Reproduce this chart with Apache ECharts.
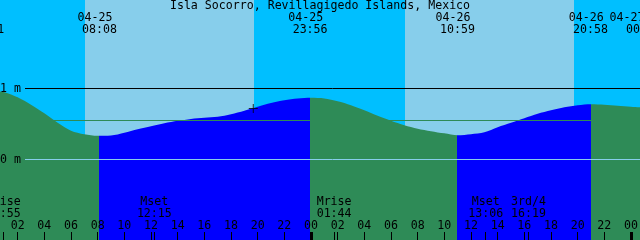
<!DOCTYPE html>
<html><head><meta charset="utf-8">
<script src="https://cdn.jsdelivr.net/npm/echarts@6/dist/echarts.min.js"></script>
<style>html,body{margin:0;padding:0;background:#00BFFF}#c{width:640px;height:240px}</style>
</head><body><div id="c"></div>
<script>
const chartTitle = 'Isla Socorro, Revillagigedo Islands, Mexico';
// hours since 04-25 00:00
const hours = [0,1,2,3,4,5,6,7,8,9,10,11,12,13,14,15,16,17,18,19,20,21,22,23,24,25,26,27,28,29,30,31,32,33,34,35,36,37,38,39,40,41,42,43,44,45,46,47,48,49];
const levels = [0.969,0.948,0.877,0.772,0.652,0.518,0.406,0.356,0.334,0.338,0.377,0.427,0.469,0.511,0.545,0.572,0.589,0.603,0.638,0.687,0.744,0.796,0.835,0.859,0.868,0.859,0.821,0.765,0.694,0.617,0.546,0.483,0.434,0.399,0.368,0.342,0.356,0.383,0.455,0.518,0.582,0.645,0.694,0.737,0.765,0.779,0.772,0.758,0.744,0.732];
const tideHours = [-0.317, 8.133, 23.933, 34.983, 44.967, 48.03];
const tideKinds = ['H','L','H','L','H','X'];
const tideDates = ['04-24','04-25','04-25','04-26','04-26','04-27'];
const tideTimes = ['23:41','08:08','23:56','10:59','20:58','00:02'];
const dayStarts = [7.05, 31.05];
const dayEnds = [19.725, 43.725];
const moonHours = [0.917, 12.25, 25.733, 37.1, 40.317];
const moonNames = ['Mrise','Mset','Mrise','Mset','3rd/4'];
const moonTimes = ['00:55','12:15','01:44','13:06','16:19'];
const hourTicks = [2,4,6,8,10,12,14,16,18,20,22,24,26,28,30,32,34,36,38,40,42,44,46,48];
const midnightTicks = [24,48];
const depthLines = [1, 0];
const meanLevel = 0.549;
const nowHour = 19.67, nowLevel = 0.72;

const X_MIN = 0.675, X_MAX = 48.675;
const Y_MIN = -1.1338, Y_MAX = 2.2465;
const FONT = 'DejaVu Sans Mono';
const FS = 11.6;
const GREEN = '#2E8B57', BLUE = '#0000FF', DAY = '#87CEEB', NIGHT = '#00BFFF';

const pad = n => String(n).padStart(2, '0');

// colour pieces: falling after high (green), rising after low (blue)
const ext = tideHours.map((h, i) => [h, tideKinds[i]]).filter(e => e[1] !== 'X');
const pieces = [];
pieces.push({ lt: ext[0][0], color: ext[0][1] === 'H' ? BLUE : GREEN });
for (let i = 0; i < ext.length; i++) {
  const p = { gte: ext[i][0], color: ext[i][1] === 'H' ? GREEN : BLUE };
  if (i + 1 < ext.length) p.lt = ext[i + 1][0];
  pieces.push(p);
}

const tickVals = hourTicks.concat(moonHours).sort((a, b) => a - b);
const lineStart = 2.55;

const chart = echarts.init(document.getElementById('c'), null, { renderer: 'canvas' });
chart.setOption({
  animation: false,
  backgroundColor: NIGHT,
  grid: { left: 0, right: 0, top: 0, bottom: 0, containLabel: false, outerBoundsMode: 'none' },
  xAxis: [
    { type: 'value', min: X_MIN, max: X_MAX, position: 'bottom', z: 8,
      axisLine: { show: false, onZero: false }, splitLine: { show: false },
      axisTick: { show: true, inside: true, length: 8, customValues: tickVals, lineStyle: { color: '#000', width: 1 } },
      axisLabel: { show: true, inside: true, margin: 8, customValues: hourTicks, formatter: v => pad(Math.round(v) % 24),
        color: '#000', fontFamily: FONT, fontSize: FS } },
    { type: 'value', min: X_MIN, max: X_MAX, position: 'bottom', z: 8,
      axisLine: { show: false, onZero: false }, splitLine: { show: false },
      axisTick: { show: true, inside: true, length: 8, customValues: midnightTicks, lineStyle: { color: '#000', width: 3 } },
      axisLabel: { show: false } }
  ],
  yAxis: { type: 'value', min: Y_MIN, max: Y_MAX, position: 'left', z: 8,
    axisLine: { show: false, onZero: false }, splitLine: { show: false }, axisTick: { show: false },
    axisLabel: { inside: true, margin: 0, customValues: depthLines, formatter: v => v + ' m',
      color: '#000', fontFamily: FONT, fontSize: FS } },
  visualMap: { show: false, type: 'piecewise', dimension: 0, seriesIndex: 0, pieces: pieces },
  series: [
    { type: 'line', xAxisIndex: 0, data: hours.map((h, i) => [h, levels[i]]),
      showSymbol: false, smooth: 0.3, z: 2, silent: true,
      lineStyle: { width: 0 }, areaStyle: { opacity: 1, origin: 'start' },
      markArea: { silent: true, itemStyle: { color: DAY, opacity: 1 },
        data: dayStarts.map((s, i) => [{ xAxis: s }, { xAxis: dayEnds[i] }]) },
      markLine: { silent: true, symbol: ['none', 'none'], label: { show: false },
        data: [
          [{ coord: [lineStart, depthLines[0]], lineStyle: { color: '#000', width: 1, type: 'solid' } }, { coord: [X_MAX, depthLines[0]] }],
          [{ coord: [lineStart, meanLevel], lineStyle: { color: GREEN, width: 1, type: 'solid' } }, { coord: [X_MAX, meanLevel] }],
          [{ coord: [lineStart, depthLines[1]], lineStyle: { color: DAY, width: 1, type: 'solid' } }, { coord: [X_MAX, depthLines[1]] }]
        ] } },
    { type: 'scatter', data: [[nowHour, nowLevel]], z: 10, silent: true,
      symbol: 'path://M4,0H5V9H4ZM0,4H9V5H0Z', symbolSize: 9, itemStyle: { color: '#000' } }
  ]
});

const px = h => chart.convertToPixel({ xAxisIndex: 0 }, h);
const txt = (x, y, s, align) => ({ type: 'text', x: x, y: y, silent: true, z: 100,
  style: { text: s, fill: '#000', font: FS + 'px "' + FONT + '"', align: align || 'center', verticalAlign: 'middle' } });
const g = [];
g.push(txt(320, 6, chartTitle));
tideHours.forEach((h, i) => {
  const x = px(h);
  g.push(txt(x - 4.4, 17.5, tideDates[i]));
  g.push(txt(tideKinds[i] === 'X' ? x + 12 : x, 29.5, tideTimes[i]));
});
moonHours.forEach((h, i) => {
  const x = px(h);
  g.push(txt(x, 202, moonNames[i]));
  g.push(txt(x, 214, moonTimes[i]));
});
chart.setOption({ graphic: g });
</script></body></html>
